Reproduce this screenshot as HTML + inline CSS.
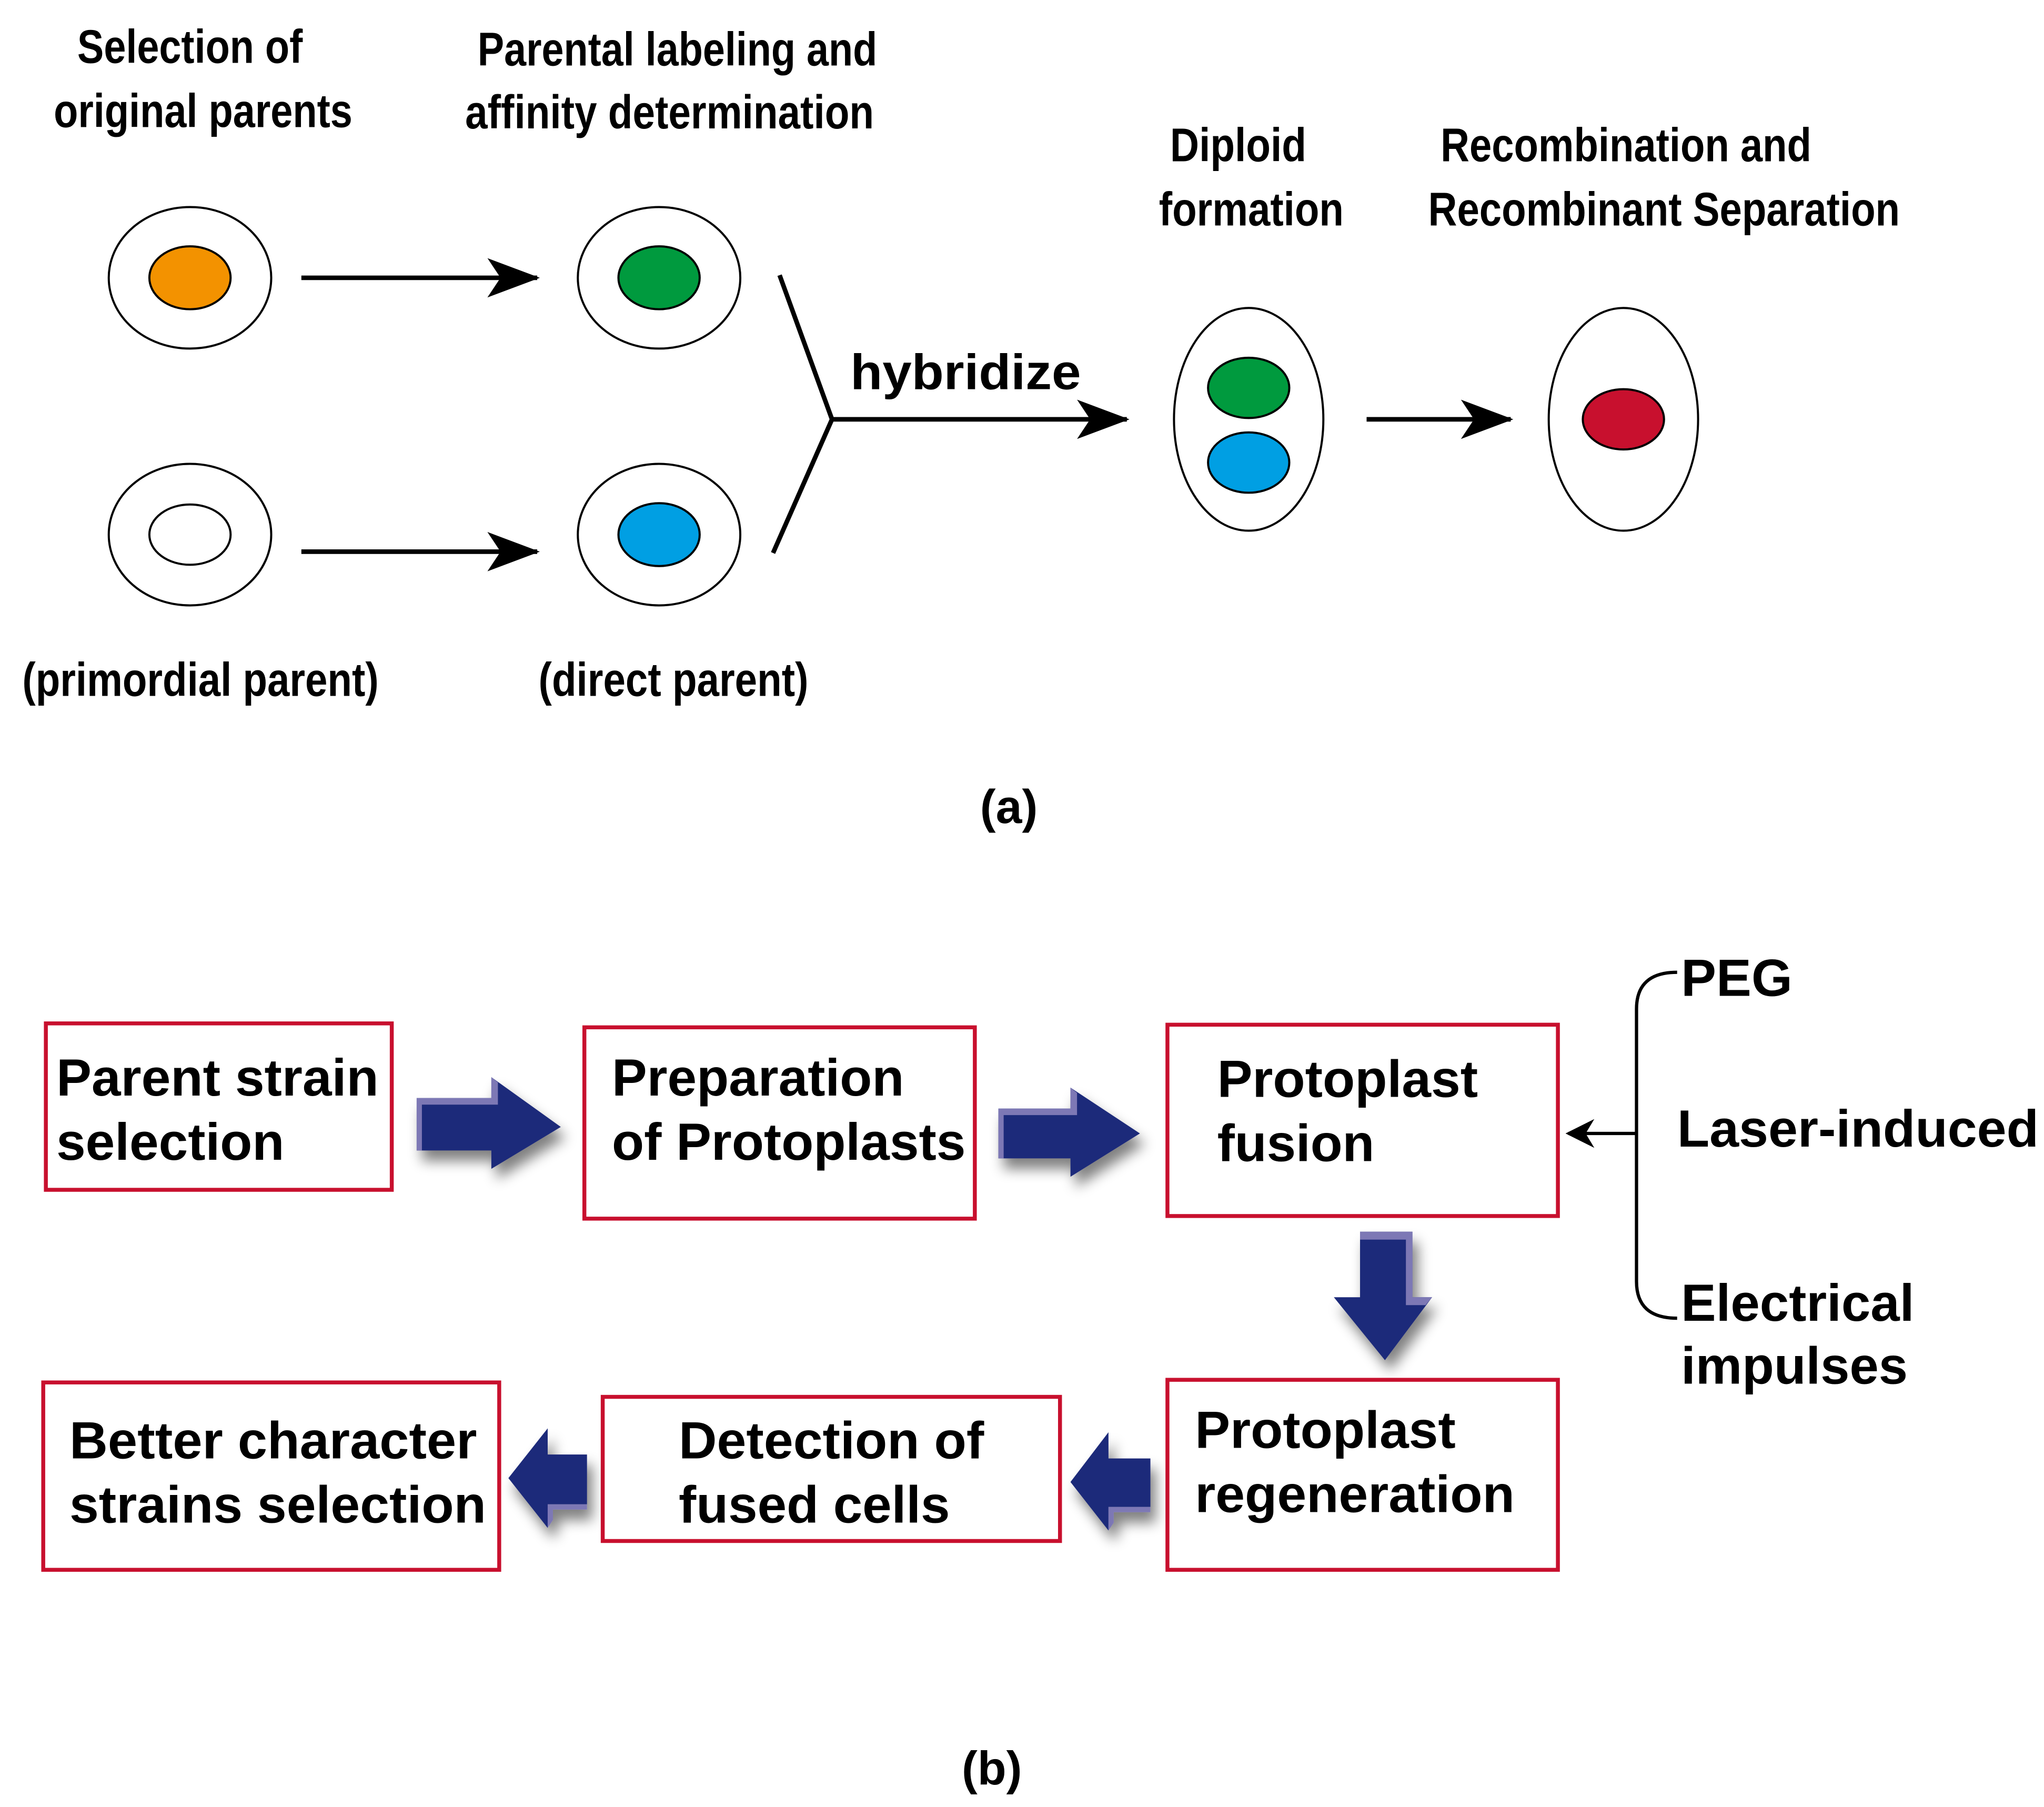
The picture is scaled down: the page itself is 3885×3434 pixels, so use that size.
<!DOCTYPE html>
<html><head><meta charset="utf-8"><style>
html,body{margin:0;padding:0;background:#fff;}
svg{display:block;}
text{font-family:"Liberation Sans",sans-serif;font-weight:bold;fill:#000;}
.n{font-size:36px;}
.b{font-size:40px;}
</style></head><body>
<svg width="3885" height="3434" viewBox="0 0 1560 1379" preserveAspectRatio="none" xmlns="http://www.w3.org/2000/svg">
<defs>
<marker id="ah" viewBox="0 0 40 30" refX="38" refY="15" markerWidth="40" markerHeight="30" markerUnits="userSpaceOnUse" orient="auto">
<path d="M0,0 L40,15 L0,30 L10,15 Z" fill="#000"/>
</marker>
<marker id="sa" viewBox="0 0 20 20" refX="18" refY="10" markerWidth="22" markerHeight="22" markerUnits="userSpaceOnUse" orient="auto">
<path d="M0,0 L20,10 L0,20 L6,10 Z" fill="#000"/>
</marker>
<filter id="sh" x="-30%" y="-30%" width="160%" height="160%">
<feGaussianBlur in="SourceAlpha" stdDeviation="5"/><feOffset dx="4" dy="8"/>
<feComponentTransfer><feFuncA type="linear" slope="0.5"/></feComponentTransfer>
<feMerge><feMergeNode/><feMergeNode in="SourceGraphic"/></feMerge>
</filter>
</defs>

<!-- (a) labels -->
<text class="n" x="145" y="48" text-anchor="middle" textLength="172" lengthAdjust="spacingAndGlyphs">Selection of</text>
<text class="n" x="155" y="97" text-anchor="middle" textLength="228" lengthAdjust="spacingAndGlyphs">original parents</text>
<text class="n" x="517" y="50" text-anchor="middle" textLength="305" lengthAdjust="spacingAndGlyphs">Parental labeling and</text>
<text class="n" x="511" y="98" text-anchor="middle" textLength="312" lengthAdjust="spacingAndGlyphs">affinity determination</text>
<text class="n" x="945" y="123" text-anchor="middle" textLength="104" lengthAdjust="spacingAndGlyphs">Diploid</text>
<text class="n" x="955" y="172" text-anchor="middle" textLength="141" lengthAdjust="spacingAndGlyphs">formation</text>
<text class="n" x="1241" y="123" text-anchor="middle" textLength="283" lengthAdjust="spacingAndGlyphs">Recombination and</text>
<text class="n" x="1270" y="172" text-anchor="middle" textLength="360" lengthAdjust="spacingAndGlyphs">Recombinant Separation</text>

<!-- cells -->
<g stroke="#000" stroke-width="1.6">
<ellipse cx="145" cy="212" rx="62" ry="54" fill="#fff"/>
<ellipse cx="145" cy="212" rx="31" ry="24" fill="#f39200"/>
<ellipse cx="503" cy="212" rx="62" ry="54" fill="#fff"/>
<ellipse cx="503" cy="212" rx="31" ry="24" fill="#009a3e"/>
<ellipse cx="145" cy="408" rx="62" ry="54" fill="#fff"/>
<ellipse cx="145" cy="408" rx="31" ry="23" fill="#fff"/>
<ellipse cx="503" cy="408" rx="62" ry="54" fill="#fff"/>
<ellipse cx="503" cy="408" rx="31" ry="24" fill="#009fe3"/>
<ellipse cx="953" cy="320" rx="57" ry="85" fill="#fff"/>
<ellipse cx="953" cy="296" rx="31" ry="23" fill="#009a3e"/>
<ellipse cx="953" cy="353" rx="31" ry="23" fill="#009fe3"/>
<ellipse cx="1239" cy="320" rx="57" ry="85" fill="#fff"/>
<ellipse cx="1239" cy="320" rx="31" ry="23" fill="#c8102e"/>
</g>

<g stroke="#000" stroke-width="3.5" fill="none">
<line x1="230" y1="212" x2="410" y2="212" marker-end="url(#ah)"/>
<line x1="230" y1="421" x2="410" y2="421" marker-end="url(#ah)"/>
<polyline points="595,210 635,320 590,422"/>
<line x1="635" y1="320" x2="860" y2="320" marker-end="url(#ah)"/>
<line x1="1043" y1="320" x2="1153" y2="320" marker-end="url(#ah)"/>
</g>
<text x="737" y="297" text-anchor="middle" style="font-size:38px" textLength="176" lengthAdjust="spacingAndGlyphs">hybridize</text>

<text class="n" x="153" y="531" text-anchor="middle" textLength="272" lengthAdjust="spacingAndGlyphs">(primordial parent)</text>
<text class="n" x="514" y="531" text-anchor="middle" textLength="206" lengthAdjust="spacingAndGlyphs">(direct parent)</text>
<text class="n" x="770" y="628" text-anchor="middle">(a)</text>

<!-- (b) boxes -->
<g fill="#fff" stroke="#c8102e" stroke-width="3">
<rect x="35" y="781" width="264" height="127"/>
<rect x="446" y="784" width="298" height="146"/>
<rect x="891" y="782" width="298" height="146"/>
<rect x="891" y="1053" width="298" height="145"/>
<rect x="460" y="1066" width="349" height="110"/>
<rect x="33" y="1055" width="348" height="143"/>
</g>
<g class="b">
<text class="b" x="43" y="836" textLength="246" lengthAdjust="spacingAndGlyphs">Parent strain</text>
<text class="b" x="43" y="885" textLength="174" lengthAdjust="spacingAndGlyphs">selection</text>
<text class="b" x="467" y="836" textLength="223" lengthAdjust="spacingAndGlyphs">Preparation</text>
<text class="b" x="467" y="885" textLength="270" lengthAdjust="spacingAndGlyphs">of Protoplasts</text>
<text class="b" x="929" y="837" textLength="199" lengthAdjust="spacingAndGlyphs">Protoplast</text>
<text class="b" x="929" y="886" textLength="120" lengthAdjust="spacingAndGlyphs">fusion</text>
<text class="b" x="912" y="1105" textLength="199" lengthAdjust="spacingAndGlyphs">Protoplast</text>
<text class="b" x="912" y="1154" textLength="244" lengthAdjust="spacingAndGlyphs">regeneration</text>
<text class="b" x="518" y="1113" textLength="233" lengthAdjust="spacingAndGlyphs">Detection of</text>
<text class="b" x="518" y="1162" textLength="207" lengthAdjust="spacingAndGlyphs">fused cells</text>
<text class="b" x="53" y="1113" textLength="311" lengthAdjust="spacingAndGlyphs">Better character</text>
<text class="b" x="53" y="1162" textLength="318" lengthAdjust="spacingAndGlyphs">strains selection</text>
</g>

<!-- blue block arrows -->
<g filter="url(#sh)">
<path d="M318,838 L375,838 L375,822 L428,860 L375,892 L375,878 L318,878 Z" fill="#1f2a7a"/>
<path d="M318,838 L375,838 L375,822 L380,826 L380,843 L322,843 L322,878 L318,878 Z" fill="#7d78b5"/>
<path d="M762,846 L817,846 L817,830 L870,865 L817,898 L817,884 L762,884 Z" fill="#1f2a7a"/>
<path d="M762,846 L817,846 L817,830 L822,834 L822,851 L766,851 L766,884 L762,884 Z" fill="#7d78b5"/>
<path d="M1038,940 L1078,940 L1078,990 L1093,990 L1057,1038 L1018,990 L1038,990 Z" fill="#1f2a7a"/>
<path d="M1038,940 L1078,940 L1078,990 L1093,990 L1088,996 L1073,996 L1073,946 L1038,946 Z" fill="#7d78b5"/>
<path d="M448,1110 L418,1110 L418,1090 L388,1128 L418,1166 L418,1148 L448,1148 Z" fill="#1f2a7a"/>
<path d="M448,1148 L418,1148 L418,1166 L422,1160 L422,1152 L448,1152 Z" fill="#7d78b5"/>
<path d="M878,1113 L846,1113 L846,1093 L817,1131 L846,1168 L846,1150 L878,1150 Z" fill="#1f2a7a"/>
<path d="M878,1150 L846,1150 L846,1168 L850,1162 L850,1154 L878,1154 Z" fill="#7d78b5"/>
</g>

<!-- bracket -->
<path d="M1280,742 Q1249,742 1249,770 L1249,978 Q1249,1006 1280,1006" fill="none" stroke="#000" stroke-width="2.5"/>
<line x1="1249" y1="865" x2="1197" y2="865" stroke="#000" stroke-width="2.5" marker-end="url(#sa)"/>
<text class="b" x="1283" y="760" textLength="85" lengthAdjust="spacingAndGlyphs">PEG</text>
<text class="b" x="1280" y="875" textLength="276" lengthAdjust="spacingAndGlyphs">Laser-induced</text>
<text class="b" x="1283" y="1008" textLength="178" lengthAdjust="spacingAndGlyphs">Electrical</text>
<text class="b" x="1283" y="1056" textLength="173" lengthAdjust="spacingAndGlyphs">impulses</text>

<text class="n" x="757" y="1362" text-anchor="middle">(b)</text>
</svg>
</body></html>
